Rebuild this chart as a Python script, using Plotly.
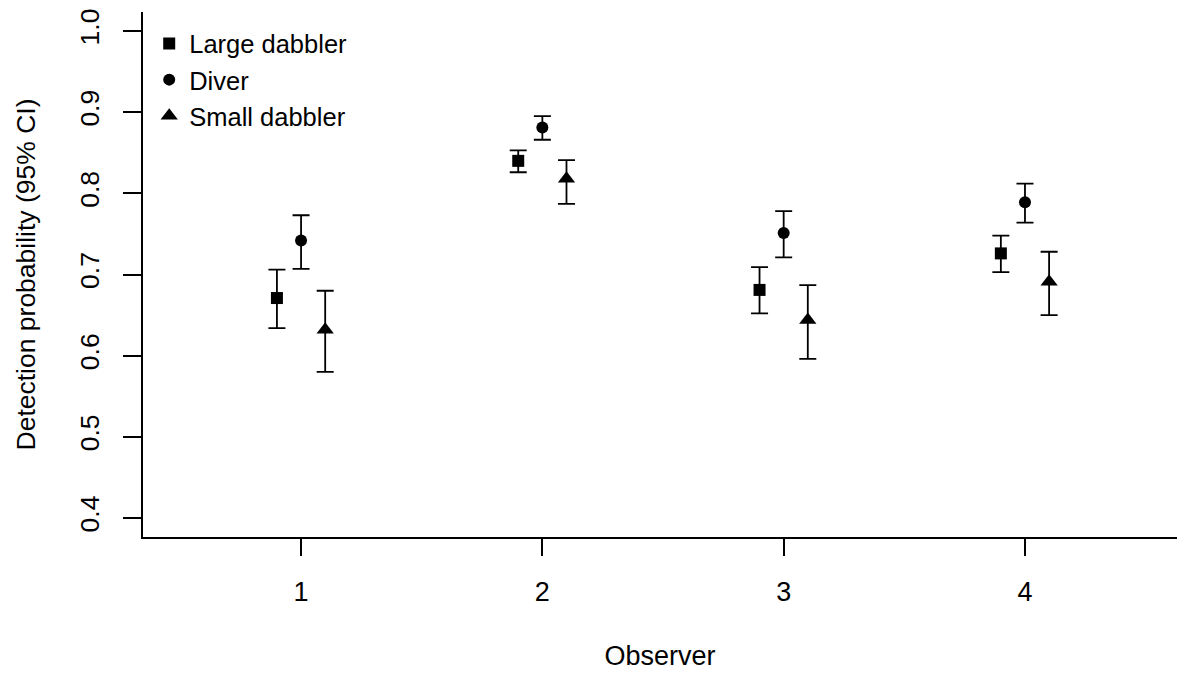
import plotly.graph_objects as go

observers = [1, 2, 3, 4]
series_names = ["Large dabbler", "Diver", "Small dabbler"]
offsets = [-0.1, 0.0, 0.1]
symbols = ["square", "circle", "triangle-up"]
marker_sizes = [12, 12, 15]

large_est = [0.671, 0.840, 0.681, 0.726]
large_lo = [0.634, 0.826, 0.652, 0.703]
large_hi = [0.706, 0.853, 0.709, 0.748]

diver_est = [0.742, 0.881, 0.751, 0.789]
diver_lo = [0.707, 0.866, 0.721, 0.764]
diver_hi = [0.773, 0.895, 0.778, 0.812]

small_est = [0.632, 0.818, 0.644, 0.691]
small_lo = [0.580, 0.787, 0.596, 0.650]
small_hi = [0.680, 0.841, 0.687, 0.728]

ests = [large_est, diver_est, small_est]
los = [large_lo, diver_lo, small_lo]
his = [large_hi, diver_hi, small_hi]

y_ticks = [0.4, 0.5, 0.6, 0.7, 0.8, 0.9, 1.0]
y_ticktext = ["0.4", "0.5", "0.6", "0.7", "0.8", "0.9", "1.0"]

FONT = "Liberation Sans, Arial, sans-serif"

fig = go.Figure()
for name, off, sym, ms, est, lo, hi in zip(series_names, offsets, symbols, marker_sizes, ests, los, his):
    fig.add_trace(go.Scatter(
        x=[o + off for o in observers],
        y=est,
        mode="markers",
        name=name,
        marker=dict(symbol=sym, size=ms, color="black"),
        error_y=dict(
            type="data", symmetric=False,
            array=[h - e for h, e in zip(hi, est)],
            arrayminus=[e - l for e, l in zip(est, lo)],
            color="black", thickness=1.8, width=8.5,
        ),
    ))

fig.update_layout(
    width=1177, height=673,
    margin=dict(l=143, r=0, t=12, b=136),
    plot_bgcolor="white", paper_bgcolor="white",
    font=dict(family=FONT, size=27, color="black"),
    showlegend=True,
    legend=dict(
        x=0.006, y=0.984, xanchor="left", yanchor="top",
        bgcolor="rgba(0,0,0,0)", borderwidth=0,
        font=dict(size=25.5), itemwidth=30, tracegroupgap=0,
    ),
    xaxis=dict(
        range=[0.345, 4.63], tickvals=observers, ticktext=[str(o) for o in observers],
        showgrid=False, zeroline=False, showline=True, linecolor="black", linewidth=1.5,
        ticks="outside", ticklen=17, tickwidth=1.5, tickcolor="black",
        ticklabelstandoff=13, tickfont=dict(size=27),
        title=dict(text="Observer", font=dict(size=27), standoff=40),
        automargin=False,
    ),
    yaxis=dict(
        range=[0.3766, 1.0234], tickvals=y_ticks, ticktext=y_ticktext,
        showgrid=False, zeroline=False, showline=True, linecolor="black", linewidth=1.5,
        ticks="outside", ticklen=18, tickwidth=1.5, tickcolor="black",
        tickangle=-90, ticklabelstandoff=14, tickfont=dict(size=26.5),
        title=dict(text="Detection probability (95% CI)", font=dict(size=26.5), standoff=31),
        automargin=False,
    ),
)

fig.write_html("out.html")
